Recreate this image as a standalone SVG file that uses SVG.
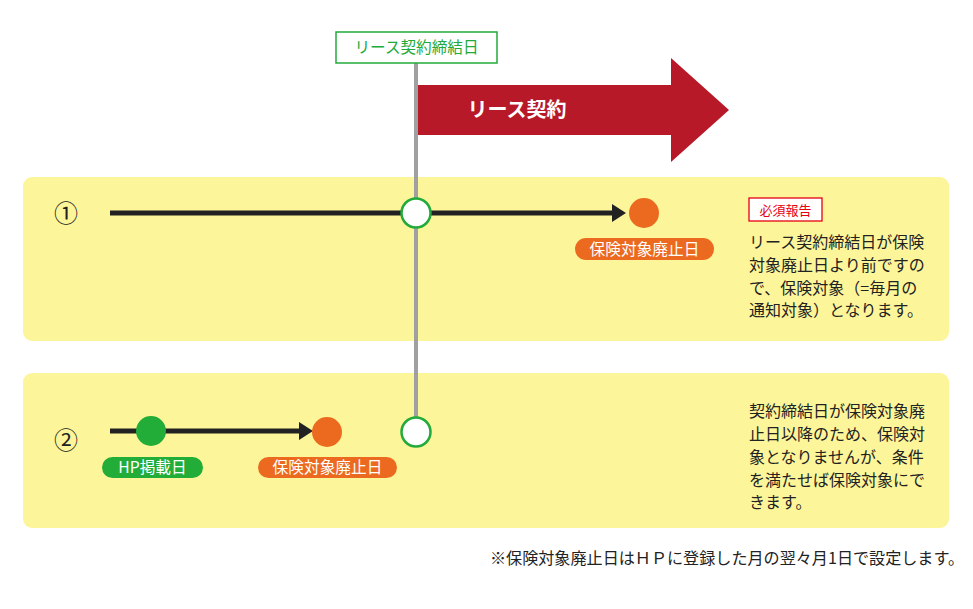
<svg xmlns="http://www.w3.org/2000/svg" width="973" height="609" viewBox="0 0 973 609">
<defs>
<style>
text{font-family:"Noto Sans CJK JP","Noto Sans",sans-serif;}
.panel{fill:#fdf599;}
.body{font-size:16px;fill:#222;}
.pill{font-size:15.7px;fill:#fff;text-anchor:middle;}
.num{font-size:24px;fill:#222;text-anchor:middle;}
.tl{stroke:#222;stroke-width:5;fill:none;}
.open{fill:#fff;stroke:#22aa3a;stroke-width:2.5;}
.or{fill:#ec6a1f;}
.gr{fill:#22ac38;}
</style>
</defs>
<rect width="973" height="609" fill="#fff"/>
<g id="panel1"><rect class="panel" x="23" y="177" width="926" height="164" rx="9"/></g>
<g id="panel2"><rect class="panel" x="23" y="373" width="926" height="155" rx="9"/></g>
<g id="contract-arrow">
<polygon points="418,85 671,85 671,58 729,110 671,162 671,135 418,135" fill="#b71928"/>
<text x="517" y="117" font-size="20" font-weight="bold" fill="#fff" text-anchor="middle">リース契約</text>
</g>
<g id="connectors">
<line x1="416" y1="63" x2="416" y2="418" stroke="#a0a0a0" stroke-width="4"/>
<line class="tl" x1="110" y1="213" x2="614" y2="213"/>
<polygon points="612,204 626,213 612,222" fill="#222"/>
<line class="tl" x1="110" y1="431" x2="300" y2="431"/>
<polygon points="299,422 313,431 299,440" fill="#222"/>
</g>
<g id="contract-label">
<rect x="336" y="32" width="161" height="31" fill="#fff" stroke="#22aa3a" stroke-width="1.5"/>
<text x="416.5" y="53" font-size="15.6" fill="#22aa3a" text-anchor="middle">リース契約締結日</text>
</g>
<g id="case1">
<text class="num" x="66" y="222">①</text>
<circle class="open" cx="416" cy="213" r="14.5"/>
<circle class="or" cx="644" cy="213" r="15"/>
<rect class="or" x="575" y="238" width="139" height="22" rx="11"/>
<text class="pill" x="644.5" y="254.5">保険対象廃止日</text>
<rect x="749" y="198" width="73" height="23" fill="#fff" stroke="#e60012" stroke-width="1.3"/>
<text x="785.5" y="215" font-size="13" fill="#e60012" text-anchor="middle">必須報告</text>
<text class="body" x="749" y="248">リース契約締結日が保険</text>
<text class="body" x="749" y="271">対象廃止日より前ですの</text>
<text class="body" x="749" y="294">で、保険対象（=毎月の</text>
<text class="body" x="749" y="316">通知対象）となります。</text>
</g>
<g id="case2">
<text class="num" x="66" y="449">②</text>
<circle class="gr" cx="151" cy="431" r="15"/>
<circle class="or" cx="327" cy="432" r="15"/>
<circle class="open" cx="416" cy="432" r="14.5"/>
<rect class="gr" x="102" y="457" width="101" height="21" rx="10.5"/>
<text class="pill" x="152.5" y="473">HP掲載日</text>
<rect class="or" x="258" y="457" width="139" height="21" rx="10.5"/>
<text class="pill" x="327.5" y="473">保険対象廃止日</text>
<text class="body" x="749" y="417">契約締結日が保険対象廃</text>
<text class="body" x="749" y="440">止日以降のため、保険対</text>
<text class="body" x="749" y="463">象となりませんが、条件</text>
<text class="body" x="749" y="486">を満たせば保険対象にで</text>
<text class="body" x="749" y="508">きます。</text>
</g>
<g id="footnote">
<text x="490" y="564" font-size="16.1" fill="#222">※保険対象廃止日はＨＰに登録した月の翌々月1日で設定します。</text>
</g>
</svg>
